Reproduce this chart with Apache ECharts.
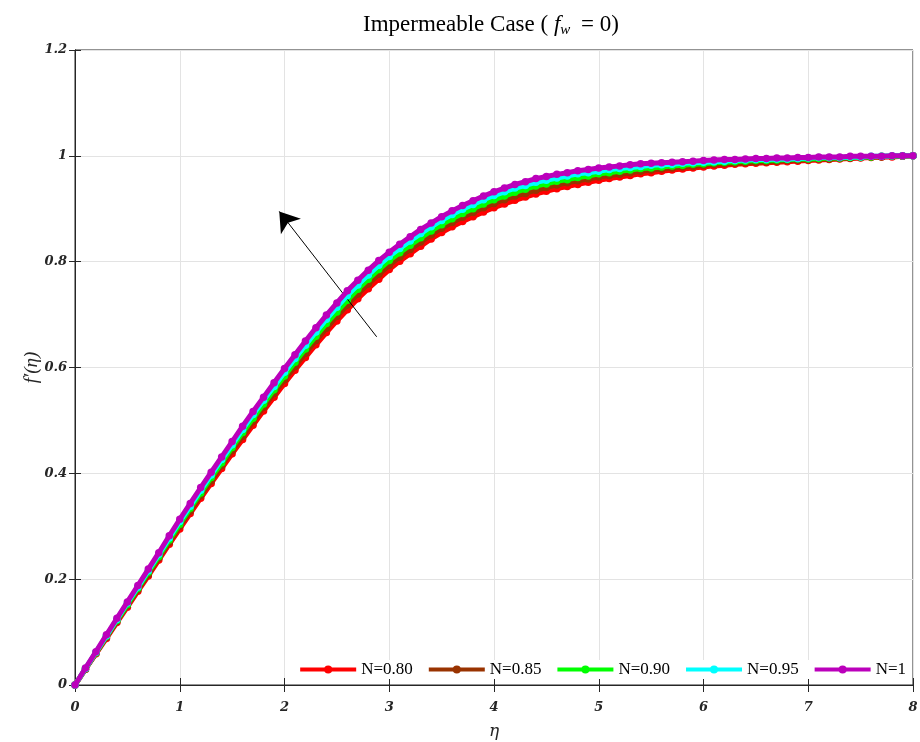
<!DOCTYPE html>
<html>
<head>
<meta charset="utf-8">
<script src="https://cdn.jsdelivr.net/npm/echarts@6/dist/echarts.min.js"></script>
<style>
  html, body { margin: 0; padding: 0; background: #fff; }
  #chart { width: 920px; height: 742px; }
</style>
</head>
<body>
<div id="chart"></div>
<script>
// eta grid of the solution
const eta = [
  0, 0.1, 0.2, 0.3, 0.4, 0.5, 0.6, 0.7, 0.8, 0.9,
  1, 1.1, 1.2, 1.3, 1.4, 1.5, 1.6, 1.7, 1.8, 1.9,
  2, 2.1, 2.2, 2.3, 2.4, 2.5, 2.6, 2.7, 2.8, 2.9,
  3, 3.1, 3.2, 3.3, 3.4, 3.5, 3.6, 3.7, 3.8, 3.9,
  4, 4.1, 4.2, 4.3, 4.4, 4.5, 4.6, 4.7, 4.8, 4.9,
  5, 5.1, 5.2, 5.3, 5.4, 5.5, 5.6, 5.7, 5.8, 5.9,
  6, 6.1, 6.2, 6.3, 6.4, 6.5, 6.6, 6.7, 6.8, 6.9,
  7, 7.1, 7.2, 7.3, 7.4, 7.5, 7.6, 7.7, 7.8, 7.9,
  8
];

// f'(eta) for each N
const fN080 = [
  0, 0.030, 0.059, 0.088, 0.118, 0.147, 0.177, 0.206, 0.236, 0.266,
  0.295, 0.324, 0.353, 0.381, 0.409, 0.437, 0.464, 0.491, 0.518, 0.544,
  0.570, 0.595, 0.619, 0.643, 0.666, 0.688, 0.709, 0.730, 0.749, 0.767,
  0.785, 0.801, 0.815, 0.829, 0.843, 0.855, 0.866, 0.876, 0.885, 0.894,
  0.902, 0.909, 0.916, 0.922, 0.928, 0.933, 0.938, 0.942, 0.946, 0.950,
  0.954, 0.957, 0.960, 0.963, 0.966, 0.968, 0.971, 0.973, 0.975, 0.977,
  0.979, 0.981, 0.982, 0.984, 0.985, 0.986, 0.987, 0.988, 0.989, 0.990,
  0.991, 0.992, 0.993, 0.994, 0.995, 0.996, 0.997, 0.998, 0.998, 0.999,
  1
];
const fN085 = [
  0, 0.030, 0.060, 0.090, 0.120, 0.150, 0.180, 0.209, 0.240, 0.270,
  0.300, 0.329, 0.358, 0.386, 0.415, 0.443, 0.470, 0.498, 0.525, 0.551,
  0.577, 0.602, 0.627, 0.651, 0.674, 0.697, 0.718, 0.739, 0.758, 0.776,
  0.793, 0.809, 0.823, 0.837, 0.851, 0.863, 0.874, 0.884, 0.893, 0.902,
  0.910, 0.917, 0.924, 0.929, 0.935, 0.940, 0.945, 0.949, 0.953, 0.956,
  0.960, 0.963, 0.965, 0.968, 0.971, 0.973, 0.975, 0.977, 0.979, 0.980,
  0.982, 0.984, 0.985, 0.986, 0.987, 0.988, 0.989, 0.990, 0.991, 0.992,
  0.993, 0.994, 0.994, 0.995, 0.996, 0.997, 0.998, 0.998, 0.999, 0.999,
  1
];
const fN090 = [
  0, 0.031, 0.061, 0.092, 0.122, 0.152, 0.183, 0.213, 0.243, 0.274,
  0.304, 0.334, 0.363, 0.392, 0.420, 0.449, 0.477, 0.504, 0.531, 0.558,
  0.584, 0.610, 0.635, 0.659, 0.683, 0.705, 0.727, 0.748, 0.767, 0.785,
  0.802, 0.817, 0.831, 0.845, 0.858, 0.870, 0.881, 0.891, 0.900, 0.909,
  0.917, 0.924, 0.931, 0.937, 0.943, 0.947, 0.952, 0.955, 0.959, 0.962,
  0.966, 0.968, 0.971, 0.973, 0.976, 0.977, 0.979, 0.981, 0.982, 0.984,
  0.985, 0.987, 0.988, 0.989, 0.990, 0.991, 0.991, 0.992, 0.993, 0.994,
  0.994, 0.995, 0.996, 0.996, 0.997, 0.998, 0.998, 0.999, 0.999, 1.000,
  1
];
const fN095 = [
  0, 0.031, 0.062, 0.093, 0.124, 0.155, 0.185, 0.216, 0.247, 0.278,
  0.309, 0.338, 0.368, 0.397, 0.426, 0.454, 0.483, 0.511, 0.538, 0.564,
  0.591, 0.617, 0.642, 0.667, 0.691, 0.714, 0.736, 0.756, 0.775, 0.793,
  0.810, 0.825, 0.839, 0.853, 0.866, 0.878, 0.889, 0.899, 0.908, 0.917,
  0.925, 0.932, 0.939, 0.944, 0.950, 0.954, 0.958, 0.962, 0.966, 0.968,
  0.971, 0.974, 0.976, 0.978, 0.980, 0.982, 0.983, 0.984, 0.986, 0.987,
  0.988, 0.989, 0.990, 0.991, 0.992, 0.993, 0.993, 0.994, 0.994, 0.995,
  0.996, 0.997, 0.997, 0.997, 0.998, 0.998, 0.999, 0.999, 1.000, 1.000,
  1
];
const fN100 = [
  0, 0.032, 0.063, 0.095, 0.126, 0.157, 0.188, 0.219, 0.250, 0.282,
  0.313, 0.343, 0.373, 0.402, 0.431, 0.460, 0.489, 0.517, 0.544, 0.571,
  0.598, 0.624, 0.650, 0.675, 0.699, 0.722, 0.745, 0.765, 0.784, 0.802,
  0.818, 0.833, 0.847, 0.861, 0.873, 0.885, 0.896, 0.906, 0.915, 0.924,
  0.932, 0.939, 0.946, 0.951, 0.957, 0.961, 0.965, 0.968, 0.972, 0.974,
  0.977, 0.979, 0.981, 0.983, 0.985, 0.986, 0.987, 0.988, 0.989, 0.990,
  0.991, 0.992, 0.993, 0.993, 0.994, 0.995, 0.995, 0.996, 0.996, 0.997,
  0.997, 0.998, 0.998, 0.998, 0.999, 0.999, 0.999, 0.999, 1.000, 1.000,
  1
];

const seriesNames = ['N=0.80', 'N=0.85', 'N=0.90', 'N=0.95', 'N=1'];
const seriesValues = [fN080, fN085, fN090, fN095, fN100];
const seriesColors = ['#ff0000', '#993300', '#00ff00', '#00ffff', '#bb00bb'];

const xTickLabels = ['0', '1', '2', '3', '4', '5', '6', '7', '8'];
const yTickLabels = ['0', '0.2', '0.4', '0.6', '0.8', '1', '1.2'];

// arrow showing the direction of increasing N
const arrowFrom = [2.88, 0.658];
const arrowTo = [1.95, 0.895];

const axisColor = '#262626';
const tickFont = {
  fontFamily: 'DejaVu Serif',
  fontStyle: 'italic',
  fontWeight: 'bold',
  fontSize: 13,
  color: axisColor
};

const chart = echarts.init(document.getElementById('chart'));

const series = seriesNames.map((name, i) => {
  const s = {
    name: name,
    type: 'line',
    data: eta.map((x, j) => [x, seriesValues[i][j]]),
    symbol: 'circle',
    symbolSize: 7.5,
    showAllSymbol: true,
    lineStyle: { width: 5, color: seriesColors[i] },
    itemStyle: { color: seriesColors[i] },
    emphasis: { disabled: true },
    z: 2 + i
  };
  if (i === seriesNames.length - 1) {
    s.markLine = {
      silent: true,
      animation: false,
      symbol: ['none', 'arrow'],
      symbolSize: 19,
      label: { show: false },
      lineStyle: { color: '#000', width: 1, type: 'solid' },
      data: [[{ coord: arrowFrom }, { coord: arrowTo }]]
    };
  }
  return s;
});

const option = {
  animation: false,
  backgroundColor: '#fff',
  title: {
    text: '{a|Impermeable Case ( }{f|f}{w|w}{a| = 0)}',
    left: 358,
    top: 5,
    textStyle: {
      rich: {
        a: { fontFamily: 'Liberation Serif', fontWeight: 'normal', fontSize: 23, color: '#000', lineHeight: 30 },
        f: { fontFamily: 'Liberation Serif', fontWeight: 'normal', fontStyle: 'italic', fontSize: 23, color: '#000', lineHeight: 30 },
        w: { fontFamily: 'Liberation Serif', fontWeight: 'normal', fontStyle: 'italic', fontSize: 15, color: '#000', lineHeight: 30, padding: [11, 5, 0, 0] }
      }
    }
  },
  legend: {
    data: seriesNames,
    right: 10,
    top: 660,
    itemWidth: 56,
    itemHeight: 10,
    itemGap: 14,
    backgroundColor: '#fff',
    padding: [1, 4],
    lineStyle: { width: 4 },
    textStyle: { fontFamily: 'Liberation Serif', fontSize: 17, color: '#000' }
  },
  grid: {
    left: 75,
    right: 7,
    top: 50,
    bottom: 57,
    outerBoundsMode: 'none',
    show: true,
    borderColor: axisColor,
    borderWidth: 1
  },
  xAxis: [
    {
      type: 'value',
      min: 0,
      max: 8,
      interval: 1,
      name: 'η',
      nameLocation: 'middle',
      nameGap: 38,
      nameTextStyle: { fontFamily: 'DejaVu Serif', fontStyle: 'italic', fontSize: 17, color: axisColor },
      axisLine: { show: true, lineStyle: { color: axisColor } },
      axisTick: { show: true, inside: true, length: 7, lineStyle: { color: axisColor } },
      axisLabel: Object.assign({ margin: 16, formatter: v => xTickLabels[Math.round(v)] }, tickFont),
      splitLine: { show: true, lineStyle: { color: '#e3e3e3', width: 1 } }
    },
    {
      type: 'value',
      position: 'top',
      min: 0,
      max: 8,
      interval: 1,
      axisLine: { show: true, lineStyle: { color: axisColor } },
      axisTick: { show: true, inside: true, length: 7, lineStyle: { color: axisColor } },
      axisLabel: { show: false },
      splitLine: { show: false }
    }
  ],
  yAxis: [
    {
      type: 'value',
      min: 0,
      max: 1.2,
      interval: 0.2,
      name: 'f′(η)',
      nameLocation: 'middle',
      nameGap: 34,
      nameMoveOverlap: false,
      nameRotate: 90,
      nameTextStyle: { fontFamily: 'Liberation Serif', fontStyle: 'italic', fontSize: 19, color: axisColor },
      axisLine: { show: true, lineStyle: { color: axisColor } },
      axisTick: { show: false },
      axisLabel: Object.assign({ margin: 8, formatter: v => yTickLabels[Math.round(v / 0.2)] }, tickFont),
      splitLine: { show: true, lineStyle: { color: '#e3e3e3', width: 1 } }
    },
    {
      type: 'value',
      position: 'right',
      min: 0,
      max: 1.2,
      interval: 0.2,
      axisLine: { show: true, lineStyle: { color: axisColor } },
      axisTick: { show: true, inside: true, length: 6, lineStyle: { color: axisColor } },
      axisLabel: { show: false },
      splitLine: { show: false }
    },
    {
      type: 'value',
      position: 'left',
      min: 0,
      max: 1.2,
      interval: 0.2,
      axisLine: { show: false },
      axisTick: { show: true, inside: true, length: 6, lineStyle: { color: axisColor } },
      axisLabel: { show: false },
      splitLine: { show: false }
    }
  ],
  series: series
};

chart.setOption(option);
</script>
</body>
</html>
